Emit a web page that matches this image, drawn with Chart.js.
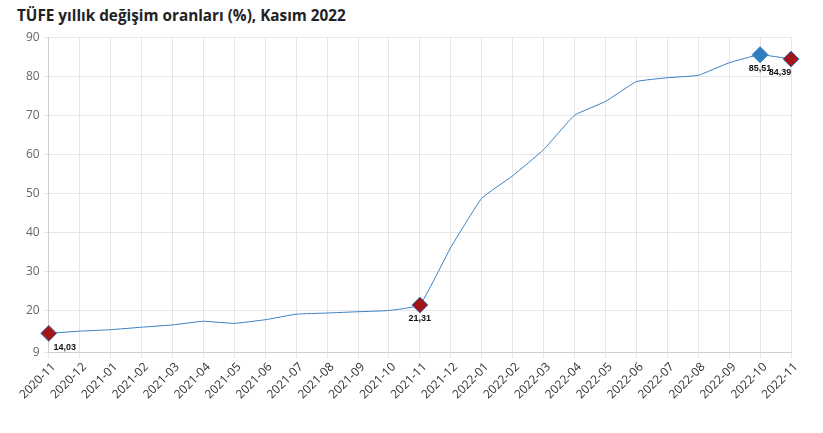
<!DOCTYPE html>
<html lang="tr">
<head>
<meta charset="utf-8">
<script src="https://cdn.jsdelivr.net/npm/chart.js@4/dist/chart.umd.min.js"></script>
<style>
    html, body { margin: 0; padding: 0; background: #fff; }
    body { width: 823px; height: 433px; position: relative; overflow: hidden; font-family: "Open Sans", "Noto Sans", sans-serif; }
    .title { position: absolute; left: 17px; top: 5px; font-size: 15.3px; font-weight: 700; color: #222; }
    .wrap { position: absolute; left: 0; top: 26px; width: 823px; height: 407px; }
</style>
</head>
<body>
<div class="title">TÜFE yıllık değişim oranları (%), Kasım 2022</div>
<div class="wrap"><canvas id="tufe"></canvas></div>
<script>
    "use strict";

    const months = [
        "2020-11", "2020-12", "2021-01", "2021-02", "2021-03", "2021-04", "2021-05",
        "2021-06", "2021-07", "2021-08", "2021-09", "2021-10", "2021-11", "2021-12",
        "2022-01", "2022-02", "2022-03", "2022-04", "2022-05", "2022-06", "2022-07",
        "2022-08", "2022-09", "2022-10", "2022-11"
    ];
    const rates = [
        14.03, 14.60, 14.97, 15.61, 16.19, 17.14, 16.59,
        17.53, 18.95, 19.25, 19.58, 19.89, 21.31, 36.08,
        48.69, 54.44, 61.14, 69.97, 73.50, 78.62, 79.60,
        80.21, 83.45, 85.51, 84.39
    ];
    const yTicks = [9, 20, 30, 40, 50, 60, 70, 80, 90];
    // months that get a diamond marker and a value label
    const lowMarks = ["2020-11", "2021-11", "2022-11"];
    const highMarks = ["2022-10"];

    const LINE = "#3a80c3";
    const RED = "#a3141b";
    const BLUE = "#2f7cc0";

    const isMarked = m => lowMarks.includes(m) || highMarks.includes(m);
    const fmt = v => v.toFixed(2).replace(".", ",");

    const labelOffsets = {
        "2020-11": { dx: 16, dy: 14 },
        "2021-11": { dx: 0, dy: 14 },
        "2022-10": { dx: 0, dy: 14 },
        "2022-11": { dx: -11, dy: 13 }
    };

    const valueLabels = {
        id: "valueLabels",
        afterDatasetsDraw(chart) {
            const ctx = chart.ctx;
            const meta = chart.getDatasetMeta(0);
            ctx.save();
            ctx.font = "bold 9px 'Liberation Sans', Arial, sans-serif";
            ctx.fillStyle = "#111";
            ctx.textBaseline = "middle";
            ctx.textAlign = "center";
            months.forEach((m, i) => {
                if (!isMarked(m)) return;
                const pt = meta.data[i];
                const off = labelOffsets[m];
                ctx.fillText(fmt(rates[i]), pt.x + off.dx, pt.y + off.dy);
            });
            ctx.restore();
        }
    };

    new Chart(document.getElementById("tufe").getContext("2d"), {
        type: "line",
        data: {
            labels: months,
            datasets: [{
                data: rates,
                borderColor: LINE,
                borderWidth: 1,
                tension: 0.1,
                pointStyle: "rectRot",
                pointRadius: months.map(m => isMarked(m) ? 8 : 0),
                pointHoverRadius: months.map(m => isMarked(m) ? 8 : 0),
                pointBackgroundColor: months.map(m => highMarks.includes(m) ? BLUE : RED),
                pointBorderColor: LINE,
                pointBorderWidth: 1
            }]
        },
        options: {
            responsive: true,
            maintainAspectRatio: false,
            animation: false,
            layout: { padding: { left: 22, right: 32, top: 0, bottom: 29 } },
            plugins: { legend: { display: false }, tooltip: { enabled: false } },
            scales: {
                x: {
                    grid: { color: "#e6e6e6", tickLength: 5 },
                    border: { color: "#cfcfcf" },
                    ticks: {
                        color: "#333",
                        font: { family: "'Open Sans', sans-serif", size: 12 },
                        maxRotation: 45, minRotation: 45, autoSkip: false,
                        padding: 2, labelOffset: 5
                    }
                },
                y: {
                    min: 9,
                    max: 90,
                    afterBuildTicks: axis => { axis.ticks = yTicks.map(v => ({ value: v })); },
                    grid: { color: "#e6e6e6", tickLength: 5 },
                    border: { color: "#cfcfcf" },
                    ticks: {
                        color: "#666",
                        font: { family: "'Open Sans', sans-serif", size: 12 },
                        padding: 4
                    }
                }
            }
        },
        plugins: [valueLabels]
    });
</script>
</body>
</html>
